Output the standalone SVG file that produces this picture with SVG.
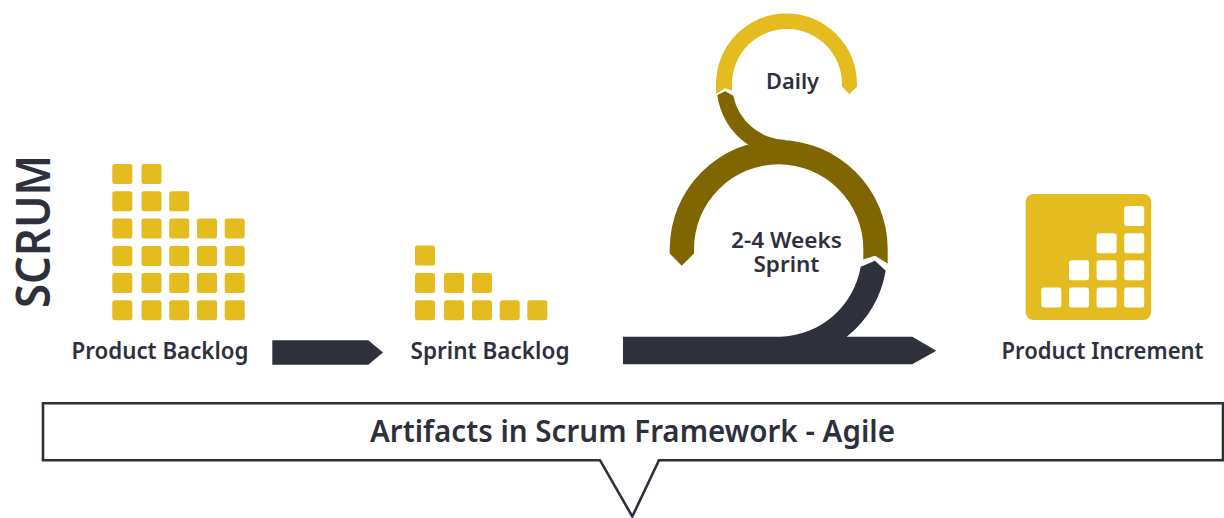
<svg xmlns="http://www.w3.org/2000/svg" width="1224" height="518" viewBox="0 0 1224 518">
<style>
.t{font-family:"Noto Sans","Liberation Sans",sans-serif;font-weight:600;fill:#2e303c;text-anchor:middle}
.y{fill:#e4bc1f}
.w{fill:#fff}
.d{fill:#2e303c}
.b{fill:#806600}
</style>
<defs>
<rect id="s" width="20" height="20" rx="2.5"/>
</defs>
<rect width="1224" height="518" fill="#fff"/>
<g id="title"><text class="t" transform="translate(49.5,231.5) rotate(-90)" font-size="46" textLength="153" lengthAdjust="spacingAndGlyphs">SCRUM</text></g>
<g id="product-backlog" class="y">
<use href="#s" x="112.3" y="164"/><use href="#s" x="141.5" y="164"/>
<use href="#s" x="112.3" y="191.3"/><use href="#s" x="141.5" y="191.3"/><use href="#s" x="169.2" y="191.3"/>
<use href="#s" x="112.3" y="218.6"/><use href="#s" x="141.5" y="218.6"/><use href="#s" x="169.2" y="218.6"/><use href="#s" x="197" y="218.6"/><use href="#s" x="224.7" y="218.6"/>
<use href="#s" x="112.3" y="245.9"/><use href="#s" x="141.5" y="245.9"/><use href="#s" x="169.2" y="245.9"/><use href="#s" x="197" y="245.9"/><use href="#s" x="224.7" y="245.9"/>
<use href="#s" x="112.3" y="273"/><use href="#s" x="141.5" y="273"/><use href="#s" x="169.2" y="273"/><use href="#s" x="197" y="273"/><use href="#s" x="224.7" y="273"/>
<use href="#s" x="112.3" y="300.2"/><use href="#s" x="141.5" y="300.2"/><use href="#s" x="169.2" y="300.2"/><use href="#s" x="197" y="300.2"/><use href="#s" x="224.7" y="300.2"/>
<text class="t" x="160" y="359" font-size="22.5" textLength="177" lengthAdjust="spacingAndGlyphs">Product Backlog</text>
</g>
<g id="sprint-backlog" class="y">
<use href="#s" x="415" y="245.5"/>
<use href="#s" x="415" y="273"/><use href="#s" x="444" y="273"/><use href="#s" x="472" y="273"/>
<use href="#s" x="415" y="300.2"/><use href="#s" x="444" y="300.2"/><use href="#s" x="472" y="300.2"/><use href="#s" x="499.7" y="300.2"/><use href="#s" x="527.3" y="300.2"/>
<text class="t" x="490" y="359" font-size="22.5" textLength="159" lengthAdjust="spacingAndGlyphs">Sprint Backlog</text>
</g>
<g id="product-increment">
<rect class="y" x="1025.7" y="194" width="125.5" height="126" rx="8"/>
<g class="w">
<use href="#s" x="1124.2" y="206"/>
<use href="#s" x="1096.6" y="233.2"/><use href="#s" x="1124.2" y="233.2"/>
<use href="#s" x="1069" y="260.3"/><use href="#s" x="1096.6" y="260.3"/><use href="#s" x="1124.2" y="260.3"/>
<use href="#s" x="1041.3" y="287.5"/><use href="#s" x="1069" y="287.5"/><use href="#s" x="1096.6" y="287.5"/><use href="#s" x="1124.2" y="287.5"/>
</g>
<text class="t" x="1102.5" y="359" font-size="22.5" textLength="202" lengthAdjust="spacingAndGlyphs">Product Increment</text>
</g>
<g id="connectors">
<path class="d" d="M272.3 340.3H368.3L383 352.4L368.3 364.7H272.3Z"/>
<path class="b" id="sprint-arc" d="M669.7 253.5V249A109 109 0 0 1 887.7 249V263.5L875 255.7L863.3 259.5V249A84.6 84.6 0 0 0 694 249V253.5L681.7 265.7Z"/>
<path class="d" id="sprint-return" d="M623 336.8H780A84.6 84.6 0 0 0 860.7 266.8L875 260.7L885.7 270.7A109 109 0 0 1 846.7 336.8H912.3L936.3 350.7L912.3 364.3H623Z"/>
<path class="y" id="daily-arc" d="M716 94V84A70.5 70.5 0 0 1 857 84V86.7L849.3 94.3L842 86.5V84A55 55 0 0 0 732 84V90.8L725 88.3Z"/>
<path class="b" id="daily-link" d="M717.3 95L725.3 91.3L733.3 95.7A55 55 0 0 0 786 140L760 150L747.7 144.3A70.5 70.5 0 0 1 717.3 95Z"/>
</g>
<g id="daily"><text class="t" x="792.5" y="89" font-size="22" textLength="53" lengthAdjust="spacingAndGlyphs">Daily</text></g>
<g id="sprint"><text class="t" font-size="22"><tspan x="786.5" y="248" textLength="111" lengthAdjust="spacingAndGlyphs">2-4 Weeks</tspan><tspan x="786.5" y="272" textLength="66" lengthAdjust="spacingAndGlyphs">Sprint</tspan></text></g>
<g id="callout">
<path d="M43 403.2H1223V460.2H659L632.3 516.5L600 460.2H43Z" fill="#fff" stroke="#2e303c" stroke-width="2.6"/>
<text class="t" x="632.5" y="442" font-size="30" textLength="525" lengthAdjust="spacingAndGlyphs">Artifacts in Scrum Framework - Agile</text>
</g>
</svg>
